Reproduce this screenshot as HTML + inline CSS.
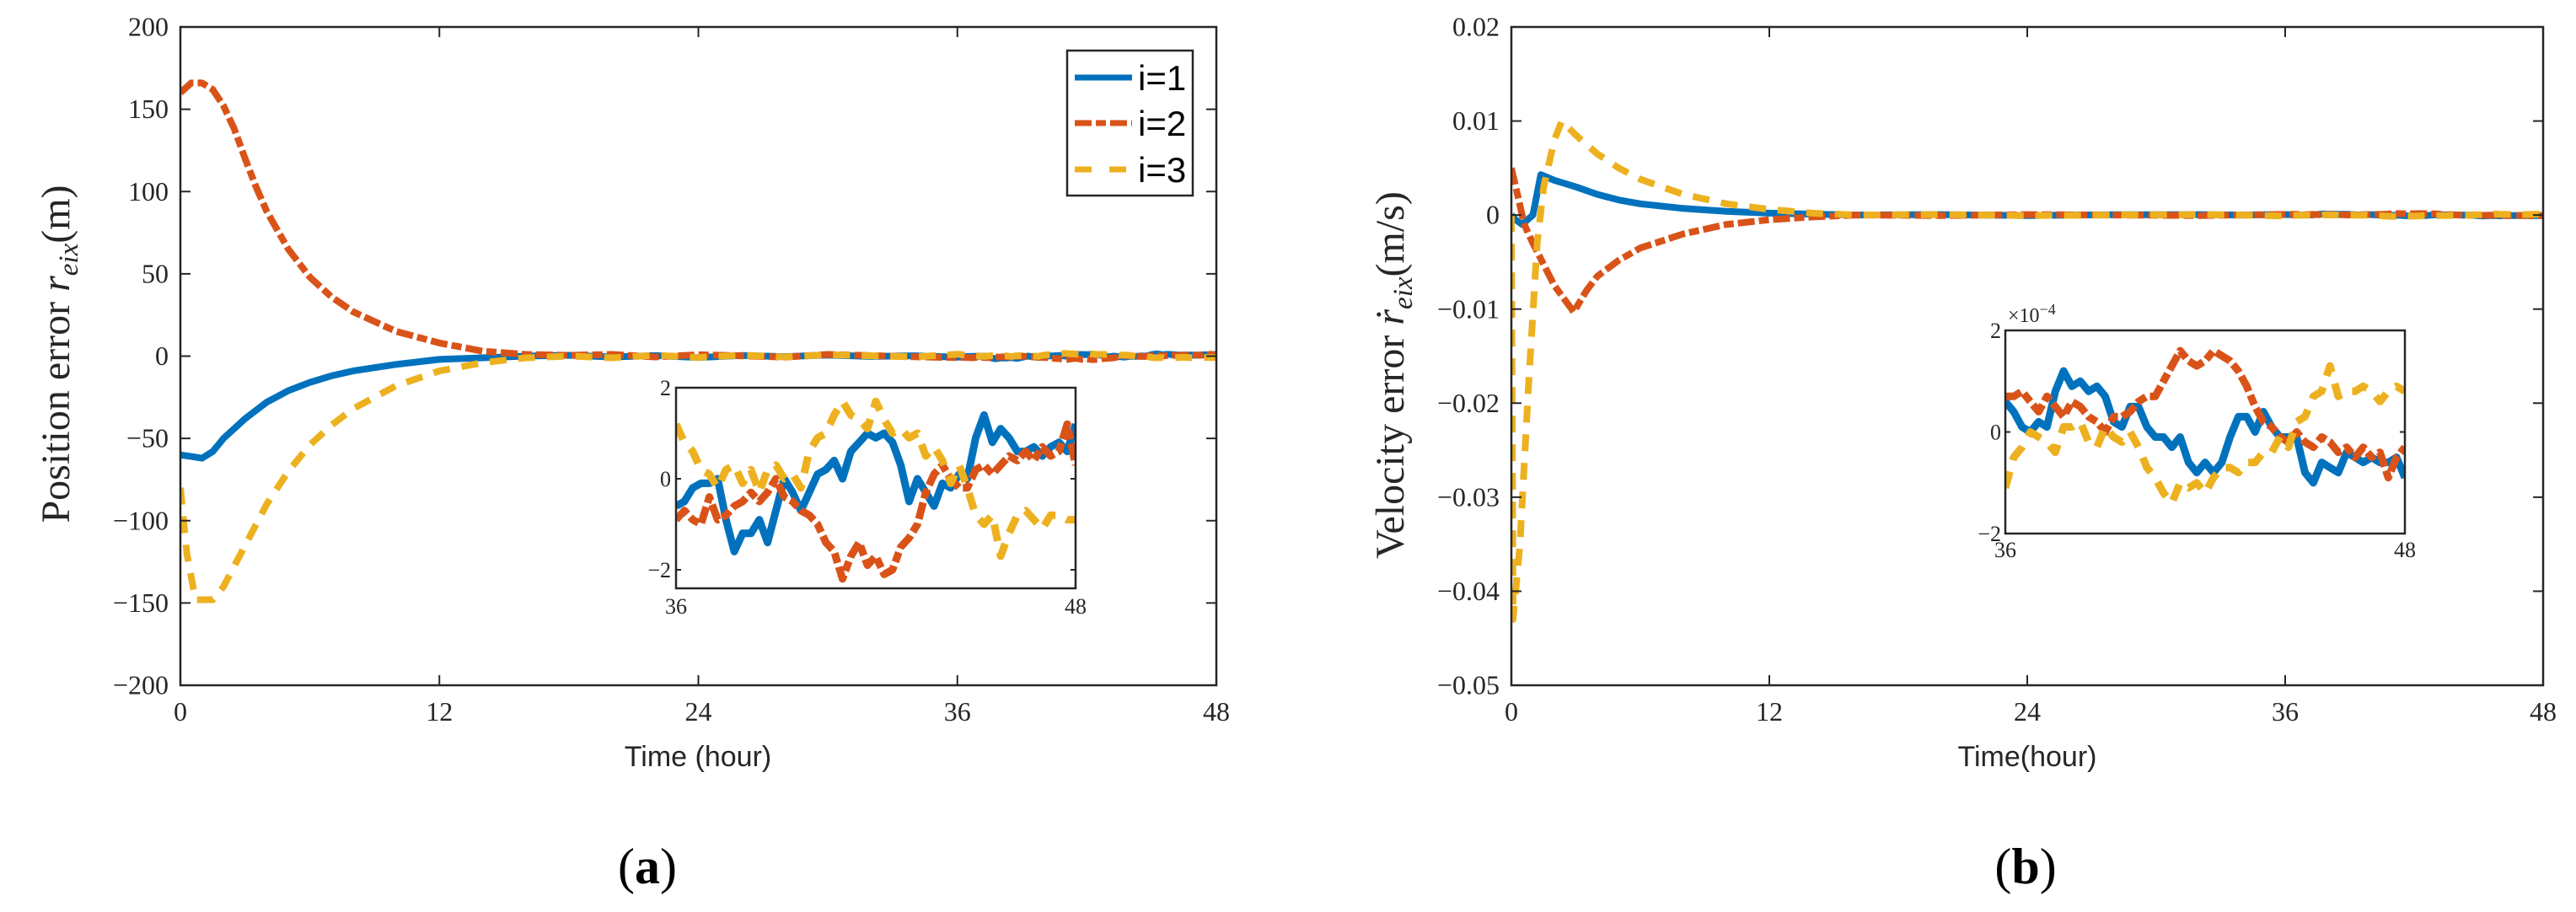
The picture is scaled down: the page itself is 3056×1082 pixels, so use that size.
<!DOCTYPE html>
<html><head><meta charset="utf-8"><style>
html,body{margin:0;padding:0;background:#fff}
svg{display:block}
.tk{font-family:"Liberation Serif",serif;fill:#262626}
.sans{font-family:"Liberation Sans",sans-serif}
</style></head><body>
<svg id="fig" width="3056" height="1082" viewBox="0 0 3056 1082" xmlns="http://www.w3.org/2000/svg">
<rect width="3056" height="1082" fill="#fff"/>
<defs>
<clipPath id="cA"><rect x="214" y="32" width="1229" height="781"/></clipPath>
<clipPath id="cB"><rect x="1793" y="32" width="1224" height="781"/></clipPath>
<clipPath id="cAi"><rect x="802" y="460" width="474" height="238"/></clipPath>
<clipPath id="cBi"><rect x="2379" y="392" width="474" height="241"/></clipPath>
</defs>
<g id="gA"></g>
<g id="gB"></g>
<g id="gAi"></g>
<g id="gBi"></g>
<g>
<rect x="1266" y="60" width="149" height="172" fill="#fff" stroke="#262626" stroke-width="2.5"/>
<g>
<line x1="1275" y1="92" x2="1343" y2="92" stroke="#0072BD" stroke-width="7"/>
<text x="1350" y="107" class="sans" font-size="42">i=1</text></g>
<g>
<line x1="1275" y1="146" x2="1343" y2="146" stroke="#D95319" stroke-width="7" stroke-dasharray="20 5 12 5"/>
<text x="1350" y="161" class="sans" font-size="42">i=2</text></g>
<g>
<line x1="1275" y1="201" x2="1343" y2="201" stroke="#EDB120" stroke-width="7" stroke-dasharray="20 21"/>
<text x="1350" y="216" class="sans" font-size="42">i=3</text></g>
</g>
<text x="82" y="420" transform="rotate(-90 82 420)" text-anchor="middle" class="tk" font-size="48">Position error <tspan font-style="italic">r</tspan><tspan font-style="italic" font-size="33" dy="10">eix</tspan><tspan dy="-10">(m)</tspan></text>
<text x="1665" y="445" transform="rotate(-90 1665 445)" text-anchor="middle" class="tk" font-size="48">Velocity error <tspan font-style="italic">ṙ</tspan><tspan font-style="italic" font-size="33" dy="10">eix</tspan><tspan dy="-10">(m/s)</tspan></text>
<text x="828" y="909" text-anchor="middle" class="sans" font-size="34" fill="#262626">Time (hour)</text>
<text x="2405" y="909" text-anchor="middle" class="sans" font-size="34" fill="#262626">Time(hour)</text>
<text x="768" y="1048" text-anchor="middle" font-family="Liberation Serif,serif" font-size="60">(<tspan font-weight="bold">a</tspan>)</text>
<text x="2403" y="1048" text-anchor="middle" font-family="Liberation Serif,serif" font-size="60">(<tspan font-weight="bold">b</tspan>)</text>
</svg>
<script>
// ---- data ----
const xTicks = [0, 12, 24, 36, 48];
const yTicksA = [-200, -150, -100, -50, 0, 50, 100, 150, 200];
const yTicksB = [-0.05, -0.04, -0.03, -0.02, -0.01, 0, 0.01, 0.02];
const yTickLabelsB = ["−0.05","−0.04","−0.03","−0.02","−0.01","0","0.01","0.02"];
const tA1 = [0,0.5,1,1.5,2,3,4,5,6,7,8,10,12,14,16,18,20,22,24,26,28,30,32,34];
const posI1 = [-60,-61,-62,-58,-50,-38,-28,-21,-16,-12,-9,-5,-2,-1,0,0.5,-0.5,0.3,-0.8,0.4,-0.3,0.6,-0.2,0.2];
const tA2 = [0,0.5,1,1.5,2,2.5,3,3.5,4,5,6,7,8,10,12,14,16,18,20,22,24,26,28,30,32,34];
const posI2 = [160,166,166,162,152,138,120,103,88,65,48,36,27,15,8,3,1,0.5,1,-0.5,0.8,0.2,-0.6,1,0.3,-0.4];
const tA3 = [0,0.3,0.7,1.5,2,3,4,5,6,7,8,10,12,14,16,18,20,22,24,26,28,30,32,34];
const posI3 = [-80,-120,-148,-148,-140,-115,-90,-70,-54,-42,-32,-18,-9,-4,-1,0,-1,0.5,-0.8,0.6,-0.5,0.8,0.2,-0.5];
const tB1 = [0,0.2,0.5,1,1.37,2,3,4,5,6,8,10,12,14,16,20,24,28,32,34];
const velI1 = [0,-0.0005,-0.001,0,0.0043,0.0037,0.003,0.0022,0.0016,0.0012,0.0007,0.0004,0.0002,0.0001,0,0.00005,-0.00005,0.00003,0.00005,0];
const tB2 = [0,0.3,0.6,1,2,2.9,3.5,4,5,6,8,10,12,14,16,20,24,28,32,34];
const velI2 = [0.005,0.002,-0.001,-0.003,-0.0075,-0.0103,-0.008,-0.0065,-0.0048,-0.0035,-0.002,-0.001,-0.0005,-0.0002,0,-0.00005,0.00005,0,-0.00005,0];
const tB3 = [0,0.08,0.4,0.8,1.2,1.5,2,2.35,3,4,5,6,8,10,12,14,16,20,24,28,32,34];
const velI3 = [0,-0.043,-0.035,-0.018,-0.003,0.003,0.008,0.01,0.0085,0.0065,0.005,0.0038,0.0022,0.0012,0.0006,0.0002,0,0.00005,-0.00005,0,0.00005,0];
const insA1 = [-0.6,-0.5,-0.2,-0.1,-0.1,0,-0.9,-1.6,-1.2,-1.2,-0.9,-1.4,-0.7,0,-0.3,-0.7,-0.3,0.1,0.2,0.4,0,0.6,0.8,1.0,0.9,1.0,0.8,0.3,-0.5,0,-0.3,-0.6,-0.1,-0.2,0.1,0,0.9,1.4,0.8,1.1,0.9,0.6,0.6,0.7,0.5,0.7,0.8,0.6,1.2];
const insA2 = [-0.9,-0.7,-0.9,-1.0,-0.4,-0.9,-0.8,-0.6,-0.5,-0.3,-0.5,-0.3,0,-0.4,-0.5,-0.7,-0.8,-1.0,-1.4,-1.6,-2.2,-1.7,-1.4,-1.9,-1.7,-2.1,-2.0,-1.5,-1.3,-1.0,-0.3,0.1,0.3,0,-0.2,-0.2,0.2,0.3,0.1,0.3,0.5,0.4,0.6,0.4,0.7,0.5,0.6,1.2,0.3];
const insA3 = [1.2,0.8,0.6,0.2,0.1,-0.2,0.2,0.3,-0.1,0.2,-0.3,0.2,0.3,0,0.1,-0.2,0.6,0.9,1.0,1.4,1.7,1.4,1.3,1.1,1.7,1.3,1.0,1.1,0.9,1.0,0.5,0.7,0.4,-0.1,0.3,-0.2,-0.8,-1.0,-0.8,-1.7,-1.2,-0.8,-0.7,-0.9,-1.1,-0.8,-0.8,-0.9,-0.9];
const insB1 = [0.6,0.4,0.1,0,0.2,0.1,0.8,1.2,0.9,1.0,0.8,0.9,0.7,0.2,0.1,0.5,0.5,0.1,-0.1,-0.1,-0.3,-0.1,-0.6,-0.8,-0.6,-0.8,-0.6,-0.1,0.3,0.3,0,0.4,0.1,-0.1,-0.1,-0.1,-0.8,-1.0,-0.6,-0.7,-0.8,-0.4,-0.5,-0.6,-0.5,-0.6,-0.6,-0.5,-0.9];
const insB2 = [0.7,0.7,0.8,0.6,0.4,0.7,0.5,0.3,0.6,0.5,0.3,0.2,0,0.3,0.3,0.4,0.6,0.7,0.7,1.0,1.3,1.6,1.4,1.3,1.4,1.6,1.5,1.4,1.2,0.9,0.5,0.2,0.1,-0.1,-0.2,0,-0.2,-0.3,-0.1,-0.2,-0.4,-0.3,-0.5,-0.3,-0.5,-0.4,-0.9,-0.5,-0.3];
const insB3 = [-1.1,-0.5,-0.3,0,-0.1,-0.2,-0.4,0.1,0.1,0.2,-0.2,-0.3,0.1,-0.1,-0.2,0,-0.3,-0.7,-0.9,-1.2,-1.4,-1.0,-1.1,-1.0,-1.2,-0.9,-0.7,-0.7,-0.8,-0.6,-0.6,-0.4,-0.4,-0.1,-0.3,0.2,0.3,0.7,0.8,1.3,0.7,0.8,0.8,0.9,0.8,0.6,0.8,0.9,0.8];

const NS = "http://www.w3.org/2000/svg";
const COL = ["#0072BD", "#D95319", "#EDB120"];
const DASH = [null, "20 5 12 5", "20 14"];
function mk(tag, attrs, parent) {
  const e = document.createElementNS(NS, tag);
  for (const k in attrs) e.setAttribute(k, attrs[k]);
  parent.appendChild(e);
  return e;
}
function scale(d0, d1, r0, r1) { return v => r0 + (v - d0) / (d1 - d0) * (r1 - r0); }
function pathD(xs, ys, sx, sy) {
  return xs.map((x, i) => (i ? "L" : "M") + sx(x).toFixed(1) + "," + sy(ys[i]).toFixed(1)).join("");
}
function insetTimes(n) { const a = []; for (let i = 0; i < n; i++) a.push(36 + i * 0.25); return a; }

function axes(g, L, T, R, B, sx, sy, xt, xtl, yt, ytl, fs, tickLen, labYoff, labXoff) {
  mk("rect", {x: L, y: T, width: R - L, height: B - T, fill: "none", stroke: "#262626", "stroke-width": 2.5}, g);
  xt.forEach((v, i) => {
    const x = sx(v);
    const t1 = mk("line", {x1: x, y1: B, x2: x, y2: B - tickLen, stroke: "#262626", "stroke-width": 2}, g);
    
    
    mk("line", {x1: x, y1: T, x2: x, y2: T + tickLen, stroke: "#262626", "stroke-width": 2}, g);
    const tx = mk("text", {x: x, y: B + labYoff, "text-anchor": "middle", class: "tk", "font-size": fs}, g);
    tx.textContent = xtl[i];
    
    
  });
  yt.forEach((v, i) => {
    const y = sy(v);
    const t1 = mk("line", {x1: L, y1: y, x2: L + tickLen, y2: y, stroke: "#262626", "stroke-width": 2}, g);
    
    
    mk("line", {x1: R, y1: y, x2: R - tickLen, y2: y, stroke: "#262626", "stroke-width": 2}, g);
    const tx = mk("text", {x: L - labXoff, y: y + fs * 0.33, "text-anchor": "end", class: "tk", "font-size": fs}, g);
    tx.textContent = ytl[i];
    
    
  });
}
function series(g, xs, ys, sx, sy, k, clip, w) {
  const p = mk("path", {d: pathD(xs, ys, sx, sy), fill: "none", stroke: COL[k], "stroke-width": w, "clip-path": "url(#" + clip + ")", "stroke-linejoin": "round"}, g);
  if (DASH[k]) p.setAttribute("stroke-dasharray", DASH[k]);
  
  
}

const tIns = insetTimes(insA1.length);

(function () {
  const g = document.getElementById("gA");
  const sx = scale(0, 48, 214, 1443), sy = scale(-200, 200, 813, 32);
  const tk = xTicks.map(String), ytl = yTicksA.map(v => v < 0 ? "−" + (-v) : String(v));
  [[tA1, posI1, insA1], [tA2, posI2, insA2], [tA3, posI3, insA3]].forEach((s, k) => {
    series(g, s[0].concat(tIns), s[1].concat(s[2]), sx, sy, k, "cA", 8);
  });
  axes(g, 214, 32, 1443, 813, sx, sy, xTicks, tk, yTicksA, ytl, 32, 12, 42, 14);
})();
(function () {
  const g = document.getElementById("gB");
  const sx = scale(0, 48, 1793, 3017), sy = scale(-0.05, 0.02, 813, 32);
  [[tB1, velI1, insB1], [tB2, velI2, insB2], [tB3, velI3, insB3]].forEach((s, k) => {
    series(g, s[0].concat(tIns), s[1].concat(s[2].map(v => v * 1e-4)), sx, sy, k, "cB", 8);
  });
  axes(g, 1793, 32, 3017, 813, sx, sy, xTicks, xTicks.map(String), yTicksB, yTickLabelsB, 32, 12, 42, 14);
})();
(function () {
  const g = document.getElementById("gAi");
  mk("rect", {x: 802, y: 460, width: 474, height: 238, fill: "#fff"}, g);
  const sx = scale(36, 48, 802, 1276), sy = scale(-2, 2, 676, 460);
  [insA1, insA2, insA3].forEach((s, k) => series(g, tIns, s, sx, sy, k, "cAi", 9));
  const B = 698;
  mk("rect", {x: 802, y: 460, width: 474, height: B - 460, fill: "none", stroke: "#262626", "stroke-width": 2.5}, g);
  [[36, "36"], [48, "48"]].forEach(a => {
    const t = mk("text", {x: sx(a[0]), y: 728, "text-anchor": "middle", class: "tk", "font-size": 26}, g);
    t.textContent = a[1];
  });
  [[2, "2"], [0, "0"], [-2, "−2"]].forEach(a => {
    const y = sy(a[0]);
    mk("line", {x1: 802, y1: y, x2: 808, y2: y, stroke: "#262626", "stroke-width": 2}, g);
    mk("line", {x1: 1276, y1: y, x2: 1270, y2: y, stroke: "#262626", "stroke-width": 2}, g);
    const t = mk("text", {x: 796, y: y + 9, "text-anchor": "end", class: "tk", "font-size": 26}, g);
    t.textContent = a[1];
  });
})();
(function () {
  const g = document.getElementById("gBi");
  mk("rect", {x: 2379, y: 392, width: 474, height: 241, fill: "#fff"}, g);
  const sx = scale(36, 48, 2379, 2853), sy = scale(-2, 2, 633, 392);
  [insB1, insB2, insB3].forEach((s, k) => series(g, tIns, s, sx, sy, k, "cBi", 9));
  mk("rect", {x: 2379, y: 392, width: 474, height: 241, fill: "none", stroke: "#262626", "stroke-width": 2.5}, g);
  [[36, "36"], [48, "48"]].forEach(a => {
    const t = mk("text", {x: sx(a[0]), y: 661, "text-anchor": "middle", class: "tk", "font-size": 26}, g);
    t.textContent = a[1];
  });
  [[2, "2"], [0, "0"], [-2, "−2"]].forEach(a => {
    const y = sy(a[0]);
    mk("line", {x1: 2379, y1: y, x2: 2385, y2: y, stroke: "#262626", "stroke-width": 2}, g);
    mk("line", {x1: 2853, y1: y, x2: 2847, y2: y, stroke: "#262626", "stroke-width": 2}, g);
    const t = mk("text", {x: 2374, y: y + 9, "text-anchor": "end", class: "tk", "font-size": 26}, g);
    t.textContent = a[1];
  });
  const ex = mk("text", {x: 2382, y: 382, class: "tk", "font-size": 24}, g);
  
  
  ex.innerHTML = "×10<tspan dy='-9' font-size='18'>−4</tspan>";
})();
</script>
</body></html>
